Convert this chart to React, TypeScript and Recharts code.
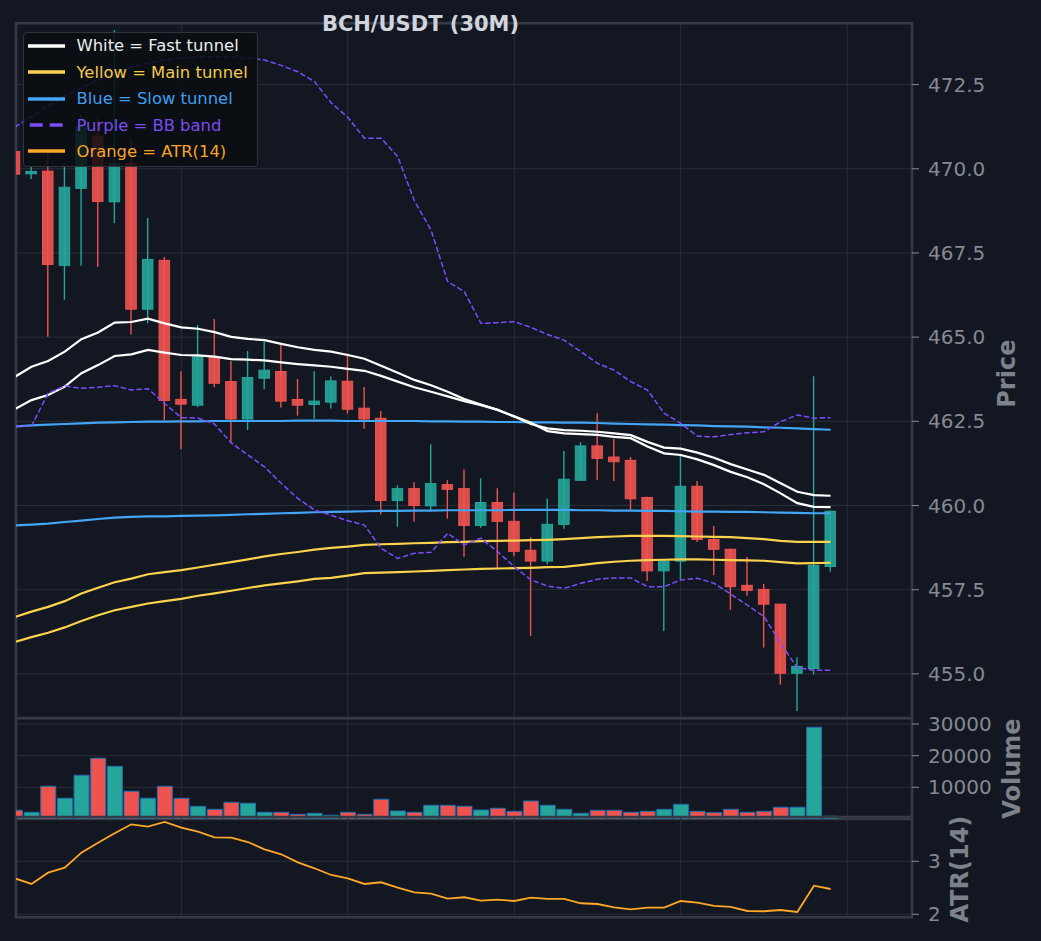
import React from "react";
import {
  ComposedChart,
  Bar,
  Line,
  XAxis,
  YAxis,
  CartesianGrid,
  Cell,
  ReferenceArea,
  Legend,
} from "recharts";

const BG = "#131722";
const GRID = "#2a2e39";
const FRAME = "#363a45";
const TICK = "#868993";
const AXIS_TITLE = "#7d818b";
const UP = "#26a69a";
const DOWN = "#ef5350";
const WHITE = "#ffffff";
const YELLOW = "#fbd34d";
const BLUE = "#42a5f5";
const PURPLE = "#7c4dff";
const ORANGE = "#ffa726";
const VOL_EDGE = "#1f6fb0";
const FONT = "'DejaVu Sans', sans-serif";

// candles, 30 minute bars
const OPEN = [470.51, 469.85, 469.93, 467.13, 469.42, 470.97, 469.02, 470.16, 465.83, 467.28, 463.15, 462.98, 464.39, 463.68, 462.57, 463.78, 463.98, 463.15, 463.0, 463.07, 463.69, 462.89, 462.59, 460.15, 460.5, 459.99, 460.62, 460.5, 459.41, 460.09, 459.53, 458.67, 458.35, 459.44, 460.75, 461.77, 461.44, 461.34, 460.24, 458.06, 458.35, 460.57, 458.99, 458.7, 457.63, 457.51, 457.07, 455.02, 455.16, 458.19];
const HIGH = [470.55, 470.05, 470.47, 470.17, 471.6, 471.5, 474.12, 470.9, 468.54, 467.38, 463.99, 465.36, 465.54, 464.29, 464.59, 464.86, 464.77, 463.76, 463.99, 463.83, 464.52, 463.52, 462.81, 460.6, 460.7, 461.82, 460.75, 461.07, 460.81, 460.51, 460.39, 459.06, 460.21, 461.62, 461.88, 462.74, 461.99, 461.44, 460.26, 458.41, 461.52, 460.73, 459.39, 458.72, 458.47, 457.67, 457.08, 455.49, 463.84, 459.85];
const LOW = [469.8, 469.7, 465.01, 466.11, 467.12, 467.09, 468.38, 465.08, 465.41, 462.54, 461.67, 462.92, 463.51, 461.85, 462.24, 463.45, 462.91, 462.67, 462.58, 462.88, 462.73, 462.28, 459.73, 459.37, 459.52, 459.86, 459.61, 458.48, 459.34, 458.1, 458.49, 456.13, 458.25, 459.31, 460.73, 460.76, 460.73, 459.86, 457.76, 456.27, 457.81, 458.92, 457.93, 456.9, 457.32, 455.78, 454.68, 453.9, 454.98, 458.03];
const CLOSE = [469.84, 469.92, 467.16, 469.45, 471.25, 469.03, 470.16, 465.83, 467.31, 463.12, 463.01, 464.42, 463.63, 462.57, 463.8, 464.02, 463.1, 462.98, 463.1, 463.7, 462.86, 462.57, 460.15, 460.5, 460.0, 460.65, 460.48, 459.41, 460.09, 459.53, 458.64, 458.35, 459.44, 460.78, 461.77, 461.4, 461.3, 460.2, 458.06, 458.35, 460.57, 458.99, 458.7, 457.59, 457.48, 457.07, 455.02, 455.22, 458.22, 459.83];

// tunnels
const FAST_UPPER = [463.82, 464.12, 464.29, 464.57, 464.94, 465.14, 465.43, 465.45, 465.55, 465.41, 465.29, 465.25, 465.15, 465.01, 464.95, 464.91, 464.8, 464.7, 464.62, 464.57, 464.47, 464.36, 464.15, 463.94, 463.73, 463.57, 463.38, 463.16, 463.0, 462.84, 462.64, 462.42, 462.29, 462.24, 462.22, 462.19, 462.14, 462.09, 461.89, 461.72, 461.69, 461.57, 461.42, 461.23, 461.07, 460.91, 460.66, 460.41, 460.31, 460.29];
const FAST_LOWER = [462.86, 463.13, 463.28, 463.53, 463.93, 464.17, 464.44, 464.49, 464.62, 464.54, 464.47, 464.46, 464.42, 464.35, 464.33, 464.31, 464.25, 464.2, 464.16, 464.12, 464.06, 464.0, 463.85, 463.68, 463.51, 463.38, 463.24, 463.1, 462.98, 462.84, 462.65, 462.46, 462.21, 462.14, 462.12, 462.1, 462.04, 462.0, 461.75, 461.55, 461.5, 461.37, 461.2, 461.0, 460.84, 460.63, 460.36, 460.07, 459.96, 459.95];
const MAIN_UPPER = [456.69, 456.85, 456.99, 457.16, 457.39, 457.56, 457.72, 457.83, 457.96, 458.02, 458.08, 458.16, 458.24, 458.32, 458.4, 458.49, 458.56, 458.62, 458.69, 458.74, 458.78, 458.83, 458.85, 458.86, 458.88, 458.89, 458.91, 458.92, 458.94, 458.95, 458.96, 458.97, 458.98, 459.0, 459.03, 459.06, 459.08, 459.1, 459.1, 459.1, 459.09, 459.08, 459.07, 459.06, 459.03, 459.0, 458.95, 458.92, 458.92, 458.92];
const MAIN_LOWER = [455.95, 456.09, 456.22, 456.38, 456.57, 456.74, 456.89, 456.99, 457.09, 457.16, 457.23, 457.32, 457.39, 457.47, 457.55, 457.63, 457.69, 457.75, 457.82, 457.85, 457.92, 457.99, 458.01, 458.02, 458.04, 458.06, 458.08, 458.1, 458.12, 458.13, 458.14, 458.15, 458.17, 458.18, 458.23, 458.29, 458.33, 458.36, 458.38, 458.39, 458.4, 458.4, 458.39, 458.38, 458.37, 458.36, 458.32, 458.28, 458.29, 458.3];
const SLOW_UPPER = [462.35, 462.38, 462.4, 462.42, 462.44, 462.46, 462.47, 462.48, 462.49, 462.49, 462.5, 462.5, 462.51, 462.51, 462.51, 462.51, 462.51, 462.52, 462.52, 462.52, 462.51, 462.51, 462.51, 462.51, 462.51, 462.5, 462.5, 462.49, 462.49, 462.48, 462.48, 462.47, 462.47, 462.46, 462.46, 462.45, 462.43, 462.42, 462.41, 462.4, 462.39, 462.38, 462.36, 462.35, 462.34, 462.32, 462.31, 462.29, 462.27, 462.25];
const SLOW_LOWER = [459.41, 459.43, 459.46, 459.51, 459.55, 459.6, 459.64, 459.66, 459.68, 459.68, 459.69, 459.7, 459.71, 459.72, 459.74, 459.75, 459.77, 459.78, 459.8, 459.81, 459.82, 459.83, 459.84, 459.84, 459.85, 459.85, 459.86, 459.86, 459.86, 459.86, 459.87, 459.87, 459.87, 459.87, 459.86, 459.86, 459.85, 459.85, 459.84, 459.84, 459.83, 459.82, 459.82, 459.81, 459.81, 459.8, 459.79, 459.78, 459.77, 459.77];

// bollinger band
const BB_UPPER = [471.24, 471.54, 471.86, 472.16, 472.4, 472.64, 472.84, 473.02, 473.14, 473.23, 473.29, 473.32, 473.32, 473.32, 473.29, 473.23, 473.07, 472.88, 472.59, 471.96, 471.53, 470.91, 470.91, 470.36, 469.05, 468.18, 466.65, 466.35, 465.41, 465.43, 465.46, 465.29, 465.08, 464.91, 464.57, 464.22, 464.02, 463.68, 463.43, 462.74, 462.44, 462.06, 462.04, 462.11, 462.16, 462.19, 462.49, 462.69, 462.59, 462.61];
const BB_LOWER = [462.36, 462.36, 463.33, 463.55, 463.48, 463.51, 463.56, 463.43, 463.47, 463.03, 462.61, 462.6, 462.42, 461.86, 461.5, 461.15, 460.66, 460.21, 459.87, 459.71, 459.55, 459.42, 458.73, 458.43, 458.58, 458.61, 459.17, 458.83, 459.03, 458.63, 458.18, 457.79, 457.61, 457.54, 457.69, 457.81, 457.85, 457.85, 457.59, 457.59, 457.79, 457.84, 457.69, 457.37, 457.04, 456.7, 455.91, 455.18, 455.11, 455.11];

const VOLUME = [2750, 2120, 10330, 6540, 13800, 19170, 16640, 8750, 6540, 10330, 6540, 4010, 3060, 5270, 4960, 2120, 2120, 1480, 1800, 1170, 2120, 1480, 6220, 2530, 2120, 4330, 4330, 4010, 2840, 3380, 2430, 5680, 4330, 3060, 1800, 2750, 2750, 2120, 2430, 3060, 4640, 2430, 1990, 3060, 2120, 2430, 3700, 3700, 28960, 900];
const ATR = [2.679, 2.572, 2.785, 2.88, 3.163, 3.351, 3.528, 3.698, 3.653, 3.742, 3.634, 3.559, 3.453, 3.446, 3.364, 3.226, 3.132, 2.981, 2.868, 2.742, 2.679, 2.572, 2.604, 2.502, 2.415, 2.389, 2.294, 2.321, 2.257, 2.275, 2.251, 2.313, 2.289, 2.289, 2.208, 2.194, 2.132, 2.094, 2.125, 2.125, 2.251, 2.219, 2.157, 2.138, 2.062, 2.057, 2.081, 2.043, 2.54, 2.477];

const X_DOMAIN = [0.072, 53.89];
const X_GRID = [10, 20, 30, 40, 50];
const PRICE_DOMAIN = [453.69, 474.32];
const PRICE_TICKS = [455, 457.5, 460, 462.5, 465, 467.5, 470, 472.5];
const VOLUME_DOMAIN = [0, 31800];
const VOLUME_TICKS = [10000, 20000, 30000];
const ATR_DOMAIN = [1.943, 3.836];
const ATR_TICKS = [2, 3];

const LEGEND_ITEMS = [
  { label: "White = Fast tunnel", color: WHITE, text: "#ececec", dashed: false },
  { label: "Yellow = Main tunnel", color: YELLOW, text: "#f2cb4c", dashed: false },
  { label: "Blue = Slow tunnel", color: BLUE, text: "#3f9fec", dashed: false },
  { label: "Purple = BB band", color: PURPLE, text: "#7a4df0", dashed: true },
  { label: "Orange = ATR(14)", color: ORANGE, text: "#f7a427", dashed: false },
];

const rows = CLOSE.map((close, i) => ({
  i,
  open: OPEN[i],
  high: HIGH[i],
  low: LOW[i],
  close,
  fastUpper: FAST_UPPER[i],
  fastLower: FAST_LOWER[i],
  mainUpper: MAIN_UPPER[i],
  mainLower: MAIN_LOWER[i],
  slowUpper: SLOW_UPPER[i],
  slowLower: SLOW_LOWER[i],
  bbUpper: BB_UPPER[i],
  bbLower: BB_LOWER[i],
  volume: VOLUME[i],
  atr: ATR[i],
}));

const CHART_W = 1041;
const AXIS_W = 80;
const MARGIN_X = { left: 16, right: CHART_W - 912 - AXIS_W };

// body/wick drawn inside the [low, high] bar that recharts positions
function Candle(props: any) {
  const { x, y, width, height, payload } = props;
  if (!payload || !isFinite(y) || !isFinite(height)) return null;
  const { open, close, high, low } = payload;
  const color = close >= open ? UP : DOWN;
  const top0 = Math.min(y, y + height);
  const h = Math.abs(height);
  const k = high > low ? h / (high - low) : 0;
  const yOf = (v: number) => top0 + (high - v) * k;
  const cx = x + width / 2;
  const bodyTop = yOf(Math.max(open, close));
  const bodyBot = yOf(Math.min(open, close));
  const bw = 10.5;
  return (
    <g>
      <line x1={cx} x2={cx} y1={top0} y2={top0 + h} stroke={color} strokeWidth={1.4} />
      <rect
        x={cx - bw / 2}
        y={bodyTop}
        width={bw}
        height={Math.max(bodyBot - bodyTop, 1.2)}
        fill={color}
        fillOpacity={0.9}
        stroke={color}
        strokeWidth={1}
      />
    </g>
  );
}

function LegendBox() {
  return (
    <div
      style={{
        width: 235,
        height: 135,
        boxSizing: "border-box",
        background: "rgba(11,13,18,0.86)",
        border: "1.5px solid #30343e",
        borderRadius: 4,
        padding: "0 0 0 4px",
        fontFamily: FONT,
      }}
    >
      {LEGEND_ITEMS.map((item) => (
        <div key={item.label} style={{ display: "flex", alignItems: "center", height: 26.4, flex: "none" }}>
          <svg width={37} height={6} style={{ marginRight: 12, flex: "none" }}>
            <line
              x1={0}
              x2={37}
              y1={3}
              y2={3}
              stroke={item.color}
              strokeWidth={3.5}
              strokeDasharray={item.dashed ? "13 7" : undefined}
              strokeDashoffset={item.dashed ? -1.7 : undefined}
            />
          </svg>
          <span style={{ color: item.text, fontSize: 16.4, lineHeight: "17px", whiteSpace: "nowrap" }}>
            {item.label}
          </span>
        </div>
      ))}
    </div>
  );
}

const axisTitle = (text: string, dx: number, dy: number) => (props: any) => {
  const vb = props.viewBox || {};
  const cx = vb.x + dx;
  const cy = vb.y + vb.height / 2 + dy;
  return (
    <text
      x={cx}
      y={cy}
      transform={`rotate(-90 ${cx} ${cy})`}
      textAnchor="middle"
      dominantBaseline="central"
      fill={AXIS_TITLE}
      fontSize={24}
      fontWeight="bold"
      fontFamily={FONT}
    >
      {text}
    </text>
  );
};

const tickStyle = { fill: TICK, fontSize: 20, fontFamily: FONT };

export default function App() {
  const xAxis = (
    <XAxis
      dataKey="i"
      type="number"
      domain={X_DOMAIN}
      allowDataOverflow
      ticks={X_GRID}
      hide
    />
  );
  return (
    <div
      style={{
        position: "absolute",
        left: 0,
        top: 0,
        width: 1041,
        height: 941,
        background: BG,
        fontFamily: FONT,
        overflow: "hidden",
      }}
    >
      <div
        style={{
          position: "absolute",
          left: 270.5,
          top: 13.9,
          width: 300,
          textAlign: "center",
          fontSize: 21,
          lineHeight: "21px",
          fontWeight: "bold",
          color: "#d1d4dc",
          zIndex: 5,
        }}
      >
        BCH/USDT (30M)
      </div>

      {/* price panel */}
      <div style={{ position: "absolute", left: 0, top: 0 }}>
        <ComposedChart
          width={CHART_W}
          height={740}
          data={rows}
          margin={{ top: 23.3, bottom: 22, ...MARGIN_X }}
        >
          <CartesianGrid stroke={GRID} strokeWidth={1} />
          {xAxis}
          <YAxis
            orientation="right"
            width={AXIS_W}
            domain={PRICE_DOMAIN}
            allowDataOverflow
            ticks={PRICE_TICKS}
            tickFormatter={(v: number) => v.toFixed(1)}
            tick={tickStyle}
            tickLine={{ stroke: TICK }}
            tickSize={7}
            tickMargin={9}
            axisLine={false}
            label={axisTitle("Price", 95, 3)}
          />
          <Bar
            dataKey={(d: any) => [d.low, d.high]}
            shape={Candle}
            barSize={12}
            isAnimationActive={false}
          />
          <Line dataKey="slowUpper" stroke={BLUE} strokeWidth={2.2} dot={false} activeDot={false} isAnimationActive={false} />
          <Line dataKey="slowLower" stroke={BLUE} strokeWidth={2.2} dot={false} activeDot={false} isAnimationActive={false} />
          <Line dataKey="mainUpper" stroke={YELLOW} strokeWidth={2.2} dot={false} activeDot={false} isAnimationActive={false} />
          <Line dataKey="mainLower" stroke={YELLOW} strokeWidth={2.2} dot={false} activeDot={false} isAnimationActive={false} />
          <Line dataKey="fastUpper" stroke={WHITE} strokeWidth={2.2} dot={false} activeDot={false} isAnimationActive={false} />
          <Line dataKey="fastLower" stroke={WHITE} strokeWidth={2.2} dot={false} activeDot={false} isAnimationActive={false} />
          <Line dataKey="bbUpper" stroke={PURPLE} strokeWidth={1.5} strokeDasharray="5.5 2.5" dot={false} activeDot={false} isAnimationActive={false} />
          <Line dataKey="bbLower" stroke={PURPLE} strokeWidth={1.5} strokeDasharray="5.5 2.5" dot={false} activeDot={false} isAnimationActive={false} />
          <ReferenceArea
            x1={X_DOMAIN[0]}
            x2={X_DOMAIN[1]}
            y1={PRICE_DOMAIN[0]}
            y2={PRICE_DOMAIN[1]}
            fill="none"
            stroke={FRAME}
            strokeWidth={2.5}
            ifOverflow="visible"
          />
          <Legend
            content={LegendBox}
            layout="horizontal"
            verticalAlign="middle"
            align="center"
            wrapperStyle={{ left: 22.5, top: 31.7, width: 235, height: 135 }}
          />
        </ComposedChart>
      </div>

      {/* volume panel */}
      <div style={{ position: "absolute", left: 0, top: 700 }}>
        <ComposedChart
          width={CHART_W}
          height={130}
          data={rows}
          margin={{ top: 18.3, bottom: 11, ...MARGIN_X }}
        >
          <CartesianGrid stroke={GRID} strokeWidth={1} />
          {xAxis}
          <YAxis
            orientation="right"
            width={AXIS_W}
            domain={VOLUME_DOMAIN}
            allowDataOverflow
            ticks={VOLUME_TICKS}
            tick={tickStyle}
            tickLine={{ stroke: TICK }}
            tickSize={7}
            tickMargin={9}
            axisLine={false}
            label={axisTitle("Volume", 100.5, 0)}
          />
          <Bar
            dataKey="volume"
            barSize={16.65}
            stroke={VOL_EDGE}
            strokeWidth={1}
            isAnimationActive={false}
          >
            {rows.map((r) => (
              <Cell key={r.i} fill={r.close >= r.open ? UP : DOWN} />
            ))}
          </Bar>
          <ReferenceArea
            x1={X_DOMAIN[0]}
            x2={X_DOMAIN[1]}
            y1={VOLUME_DOMAIN[0]}
            y2={VOLUME_DOMAIN[1]}
            fill="none"
            stroke={FRAME}
            strokeWidth={2.5}
            ifOverflow="visible"
          />
        </ComposedChart>
      </div>

      {/* ATR panel */}
      <div style={{ position: "absolute", left: 0, top: 800 }}>
        <ComposedChart
          width={CHART_W}
          height={141}
          data={rows}
          margin={{ top: 17, bottom: 23.7, ...MARGIN_X }}
        >
          <CartesianGrid stroke={GRID} strokeWidth={1} />
          {xAxis}
          <YAxis
            orientation="right"
            width={AXIS_W}
            domain={ATR_DOMAIN}
            allowDataOverflow
            ticks={ATR_TICKS}
            tick={tickStyle}
            tickLine={{ stroke: TICK }}
            tickSize={7}
            tickMargin={9}
            axisLine={false}
            label={axisTitle("ATR(14)", 48, 2)}
          />
          <Line dataKey="atr" stroke={ORANGE} strokeWidth={1.8} dot={false} activeDot={false} isAnimationActive={false} />
          <ReferenceArea
            x1={X_DOMAIN[0]}
            x2={X_DOMAIN[1]}
            y1={ATR_DOMAIN[0]}
            y2={ATR_DOMAIN[1]}
            fill="none"
            stroke={FRAME}
            strokeWidth={2.5}
            ifOverflow="visible"
          />
        </ComposedChart>
      </div>
    </div>
  );
}
